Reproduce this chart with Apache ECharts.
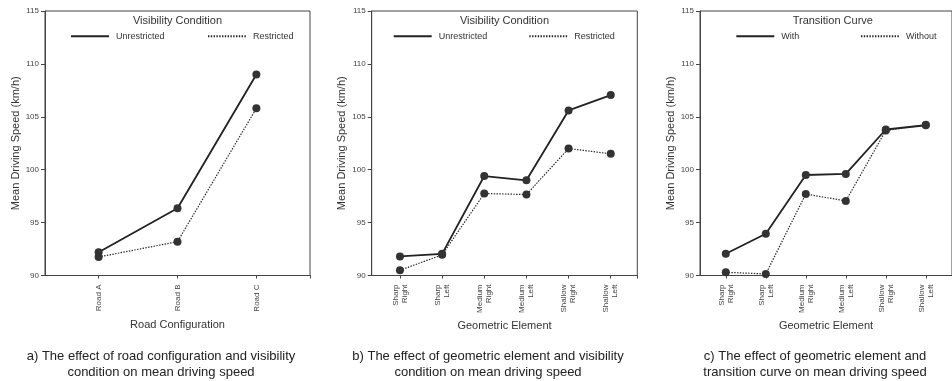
<!DOCTYPE html>
<html>
<head>
<meta charset="utf-8">
<script src="https://cdn.jsdelivr.net/npm/echarts@6/dist/echarts.min.js"></script>
<style>
html,body{margin:0;padding:0;background:#fff;}
#c{width:952px;height:381px;}
</style>
</head>
<body>
<div id="c"></div>
<script>
// ---- data ----
const roadCats = ['Road A', 'Road B', 'Road C'];
const roadUnrestricted = [92.2, 96.35, 109.0];
const roadRestricted = [91.75, 93.2, 105.8];

const geoCats = ['Sharp\nRight', 'Sharp\nLeft', 'Medium\nRight', 'Medium\nLeft', 'Shallow\nRight', 'Shallow\nLeft'];
const geoUnrestricted = [91.8, 92.05, 99.4, 99.0, 105.6, 107.05];
const geoRestricted = [90.5, 91.95, 97.75, 97.65, 102.0, 101.5];

const transWith = [92.05, 93.95, 99.5, 99.6, 103.8, 104.2];
const transWithout = [90.3, 90.15, 97.7, 97.05, 103.7, 104.25];

const yMin = 90, yMax = 115, yStep = 5;

const panelTitles = ['Visibility Condition', 'Visibility Condition', 'Transition Curve'];
const seriesNames = [['Unrestricted', 'Restricted'], ['Unrestricted', 'Restricted'], ['With', 'Without']];
const xNames = ['Road Configuration', 'Geometric Element', 'Geometric Element'];
const yName = 'Mean Driving Speed (km/h)';
const captions = [
  'a) The effect of road configuration and visibility\ncondition on mean driving speed',
  'b) The effect of geometric element and visibility\ncondition on mean driving speed',
  'c) The effect of geometric element and\ntransition curve on mean driving speed'
];

// ---- layout ----
const FONT = '"Liberation Sans", Arial, sans-serif';
const panels = [
  {left: 45, width: 265, cats: roadCats, a: roadUnrestricted, b: roadRestricted, padL: 0.68, padR: 0.68, leg: [25, 162], cap: 161},
  {left: 371.7, width: 265.6, cats: geoCats, a: geoUnrestricted, b: geoRestricted, padL: 0.67, padR: 0.63, leg: [21, 156.6], cap: 488},
  {left: 700, width: 265.6, cats: geoCats, a: transWith, b: transWithout, padL: 0.645, padR: 0.655, leg: [35.3, 160], cap: 815}
];
const TOP = 11, HEIGHT = 264.5;

const grid = [], xAxis = [], yAxis = [], series = [], legend = [], graphic = [];
panels.forEach((p, i) => {
  grid.push({left: p.left, top: TOP, width: p.width, height: HEIGHT, show: true, borderColor: '#444', borderWidth: 1, backgroundColor: 'transparent'});
  const n = p.cats.length;
  const idx = p.cats.map((c, k) => k);
  const xmin = -p.padL, xmax = n - 1 + p.padR;
  xAxis.push({
    type: 'value', gridIndex: i, min: xmin, max: xmax,
    splitLine: {show: false},
    axisLine: {show: true, onZero: false, lineStyle: {color: '#444', width: 1}},
    axisTick: {show: true, length: 3, customValues: idx.concat([xmax]), lineStyle: {color: '#444'}},
    axisLabel: {
      customValues: idx, rotate: 90, margin: 9, fontSize: 8, lineHeight: 9, color: '#444', fontFamily: FONT,
      formatter: v => p.cats[Math.round(v)]
    },
    name: xNames[i], nameLocation: 'middle', nameGap: 42,
    nameTextStyle: {fontSize: 11, color: '#333', fontFamily: FONT}
  });
  yAxis.push({
    type: 'value', gridIndex: i, min: yMin, max: yMax, interval: yStep,
    splitLine: {show: false},
    axisLine: {show: true, onZero: false, lineStyle: {color: '#444', width: 1}},
    axisTick: {show: true, length: 4, lineStyle: {color: '#444'}},
    axisLabel: {margin: 6, fontSize: 8, color: '#444', fontFamily: FONT},
    name: yName, nameLocation: 'middle', nameGap: 24,
    nameTextStyle: {fontSize: 11, color: '#333', fontFamily: FONT}
  });
  series.push({
    type: 'line', name: seriesNames[i][0], xAxisIndex: i, yAxisIndex: i,
    data: p.a.map((v, k) => [k, v]),
    symbol: 'circle', symbolSize: 8,
    lineStyle: {color: '#222', width: 1.8, type: 'solid'},
    itemStyle: {color: '#333'}, z: 3
  });
  series.push({
    type: 'line', name: seriesNames[i][1], xAxisIndex: i, yAxisIndex: i,
    data: p.b.map((v, k) => [k, v]),
    symbol: 'circle', symbolSize: 8,
    lineStyle: {color: '#222', width: 1.2, type: [1.4, 1.4]},
    itemStyle: {color: '#333'}, z: 2
  });
  [0, 1].forEach(j => {
    legend.push({
      data: [seriesNames[i][j]], left: p.left + p.leg[j], top: 31.7, padding: 0,
      itemWidth: 38, itemHeight: 10, itemGap: 0, selectedMode: false,
      itemStyle: {color: 'transparent', borderWidth: 0, borderColor: 'transparent'},
      textStyle: {fontSize: 9, color: '#333', fontFamily: FONT, padding: [0, 0, 0, 2]}
    });
  });
  graphic.push({
    type: 'text', x: p.left + p.width / 2, y: 21.3,
    style: {text: panelTitles[i], align: 'center', verticalAlign: 'middle', font: '11px ' + FONT, fill: '#333'}
  });
  graphic.push({
    type: 'text', x: p.cap, y: 364.5,
    style: {text: captions[i], align: 'center', verticalAlign: 'middle', font: '13px ' + FONT, fill: '#222', lineHeight: 15.6}
  });
});

const chart = echarts.init(document.getElementById('c'), null, {renderer: 'canvas'});
chart.setOption({
  animation: false,
  backgroundColor: '#fff',
  grid, xAxis, yAxis, series, legend, graphic
});
</script>
</body>
</html>
